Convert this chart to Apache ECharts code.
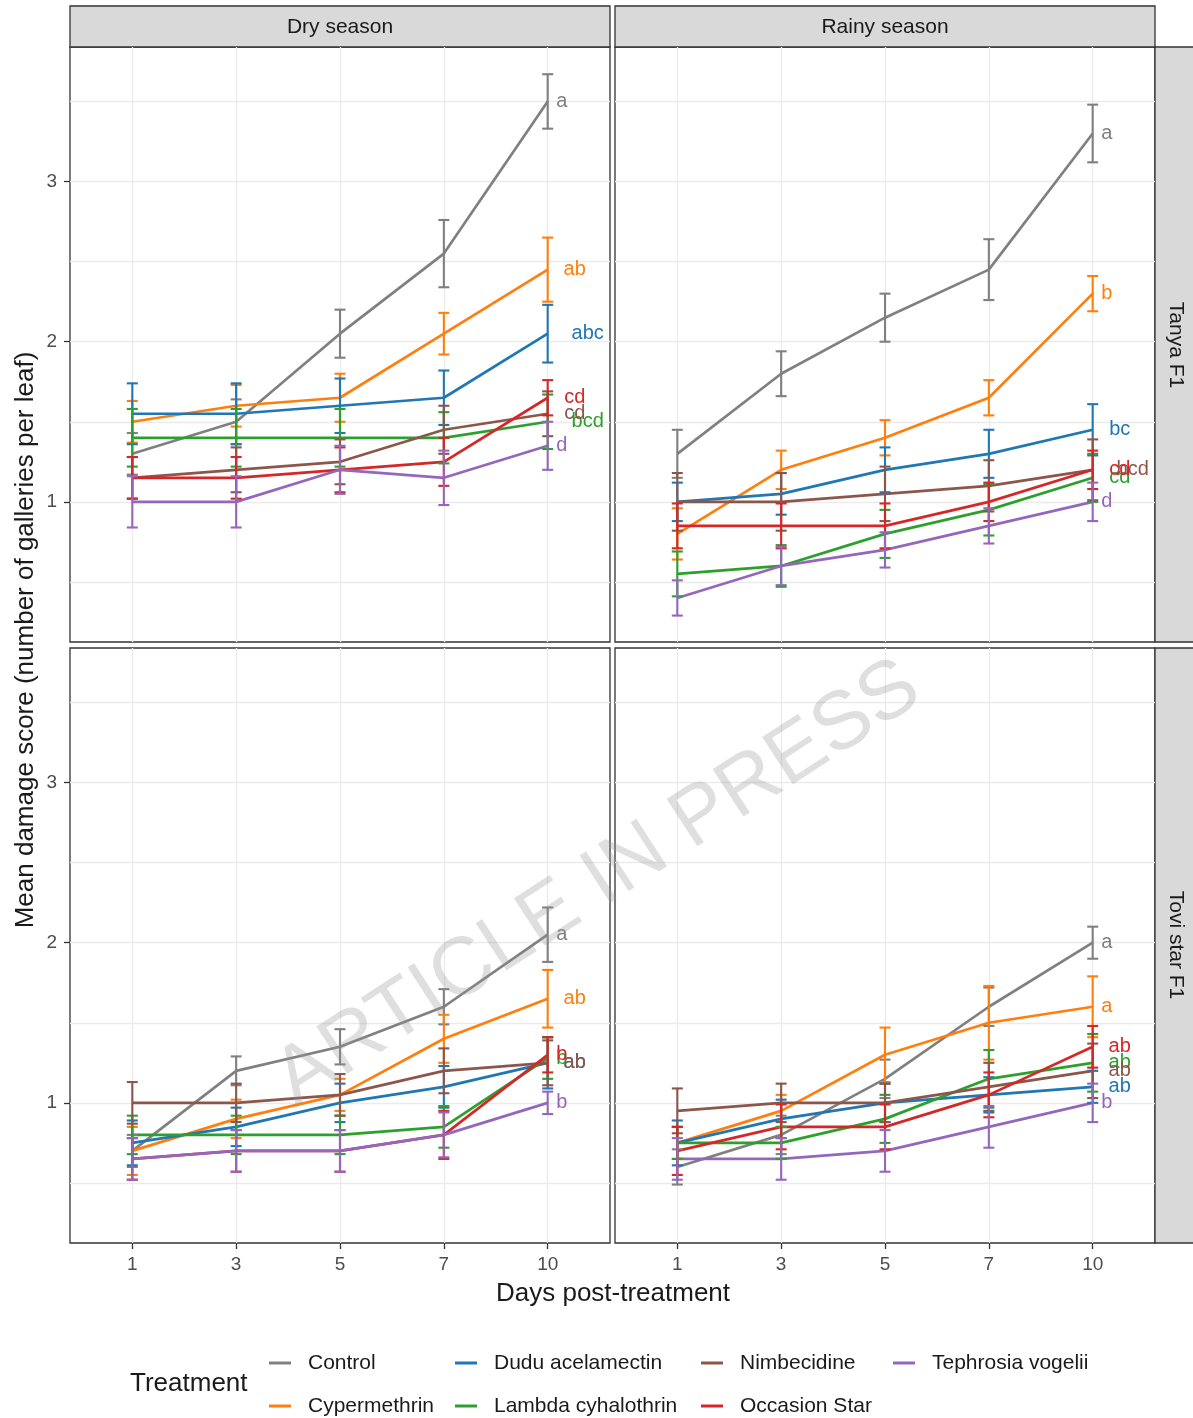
<!DOCTYPE html>
<html>
<head>
<meta charset="utf-8">
<script src="https://cdn.jsdelivr.net/npm/echarts@6/dist/echarts.min.js"></script>
<style>
html,body{margin:0;padding:0;background:#fff;}
#chart{width:1193px;height:1418px;}
</style>
</head>
<body>
<div id="chart"></div>
<script>
// ---------- DATA ----------
const days = ['1', '3', '5', '7', '10'];
const treatments = ['Control', 'Cypermethrin', 'Dudu acelamectin', 'Lambda cyhalothrin', 'Nimbecidine', 'Occasion Star', 'Tephrosia vogelii'];
const yTicks = [1, 2, 3];
const yGridValues = [0.5, 1, 1.5, 2, 2.5, 3, 3.5];

// Dry season, Tanya F1 (rows follow treatments order)
const dryTanyaMean = [
  [1.30, 1.50, 2.05, 2.55, 3.50],
  [1.50, 1.60, 1.65, 2.05, 2.45],
  [1.55, 1.55, 1.60, 1.65, 2.05],
  [1.40, 1.40, 1.40, 1.40, 1.50],
  [1.15, 1.20, 1.25, 1.45, 1.55],
  [1.15, 1.15, 1.20, 1.25, 1.65],
  [1.00, 1.00, 1.20, 1.15, 1.35]
];
const dryTanyaSE = [
  [0.13, 0.14, 0.15, 0.21, 0.17],
  [0.13, 0.13, 0.15, 0.13, 0.20],
  [0.19, 0.19, 0.17, 0.17, 0.18],
  [0.18, 0.18, 0.18, 0.16, 0.17],
  [0.13, 0.14, 0.14, 0.15, 0.14],
  [0.13, 0.13, 0.14, 0.15, 0.11],
  [0.16, 0.16, 0.15, 0.17, 0.15]
];
const dryTanyaLetters = ['a', 'ab', 'abc', 'bcd', 'cd', 'cd', 'd'];

// Rainy season, Tanya F1
const rainyTanyaMean = [
  [1.30, 1.80, 2.15, 2.45, 3.30],
  [0.80, 1.20, 1.40, 1.65, 2.30],
  [1.00, 1.05, 1.20, 1.30, 1.45],
  [0.55, 0.60, 0.80, 0.95, 1.15],
  [1.00, 1.00, 1.05, 1.10, 1.20],
  [0.85, 0.85, 0.85, 1.00, 1.20],
  [0.40, 0.60, 0.70, 0.85, 1.00]
];
const rainyTanyaSE = [
  [0.15, 0.14, 0.15, 0.19, 0.18],
  [0.16, 0.12, 0.11, 0.11, 0.11],
  [0.12, 0.13, 0.14, 0.15, 0.16],
  [0.14, 0.13, 0.15, 0.16, 0.15],
  [0.18, 0.18, 0.17, 0.16, 0.19],
  [0.14, 0.14, 0.14, 0.12, 0.12],
  [0.11, 0.12, 0.11, 0.11, 0.12]
];
const rainyTanyaLetters = ['a', 'b', 'bc', 'cd', 'bcd', 'cd', 'd'];

// Dry season, Tovi star F1
const dryToviMean = [
  [0.70, 1.20, 1.35, 1.60, 2.05],
  [0.70, 0.90, 1.05, 1.40, 1.65],
  [0.75, 0.85, 1.00, 1.10, 1.25],
  [0.80, 0.80, 0.80, 0.85, 1.28],
  [1.00, 1.00, 1.05, 1.20, 1.25],
  [0.65, 0.70, 0.70, 0.80, 1.30],
  [0.65, 0.70, 0.70, 0.80, 1.00]
];
const dryToviSE = [
  [0.10, 0.09, 0.11, 0.11, 0.17],
  [0.15, 0.12, 0.10, 0.15, 0.18],
  [0.14, 0.12, 0.12, 0.13, 0.16],
  [0.12, 0.12, 0.12, 0.13, 0.13],
  [0.13, 0.12, 0.13, 0.14, 0.14],
  [0.13, 0.13, 0.13, 0.15, 0.11],
  [0.13, 0.13, 0.13, 0.14, 0.07]
];
const dryToviLetters = ['a', 'ab', 'ab', 'b', 'ab', 'b', 'b'];

// Rainy season, Tovi star F1
const rainyToviMean = [
  [0.60, 0.80, 1.15, 1.60, 2.00],
  [0.75, 0.95, 1.30, 1.50, 1.60],
  [0.75, 0.90, 1.00, 1.05, 1.10],
  [0.75, 0.75, 0.90, 1.15, 1.25],
  [0.95, 1.00, 1.00, 1.10, 1.20],
  [0.70, 0.85, 0.85, 1.05, 1.35],
  [0.65, 0.65, 0.70, 0.85, 1.00]
];
const rainyToviSE = [
  [0.11, 0.12, 0.12, 0.12, 0.10],
  [0.10, 0.10, 0.17, 0.23, 0.19],
  [0.14, 0.12, 0.12, 0.11, 0.10],
  [0.10, 0.10, 0.15, 0.18, 0.18],
  [0.14, 0.12, 0.12, 0.15, 0.17],
  [0.15, 0.14, 0.14, 0.14, 0.13],
  [0.13, 0.13, 0.13, 0.13, 0.12]
];
const rainyToviLetters = ['a', 'a', 'ab', 'ab', 'ab', 'ab', 'b'];

const columnTitles = ['Dry season', 'Rainy season'];
const rowTitles = ['Tanya F1', 'Tovi star F1'];

// ---------- STYLE / LAYOUT ----------
const colors = ['#808080', '#ff7f0e', '#1f77b4', '#2ca02c', '#8c564b', '#d62728', '#9467bd'];
const FONT = '"Liberation Sans", Arial, Helvetica, sans-serif';
const GRIDC = '#ebebeb';
const XSTEP = 5; // x axis units per category step
const Y_MIN = 0.125, Y_MAX = 3.84;

const panels = [
  { mean: dryTanyaMean, se: dryTanyaSE, letters: dryTanyaLetters, left: 70, top: 47, showX: false, showY: true },
  { mean: rainyTanyaMean, se: rainyTanyaSE, letters: rainyTanyaLetters, left: 615, top: 47, showX: false, showY: false },
  { mean: dryToviMean, se: dryToviSE, letters: dryToviLetters, left: 70, top: 648, showX: true, showY: true },
  { mean: rainyToviMean, se: rainyToviSE, letters: rainyToviLetters, left: 615, top: 648, showX: true, showY: false }
];
const PW = 540, PH = 595;

const grid = [], xAxis = [], yAxis = [], series = [];
const xTickVals = days.map((d, i) => i * XSTEP);

panels.forEach((p, pi) => {
  grid.push({ left: p.left, top: p.top, width: PW, height: PH, show: true,
    backgroundColor: '#fff', borderColor: '#333', borderWidth: 1.3, containLabel: false });
  xAxis.push({
    type: 'value', gridIndex: pi, min: -3, max: 23, interval: 1,
    axisLine: { show: false, onZero: false },
    splitLine: { show: true, lineStyle: { color: GRIDC, width: 1.4 } },
    axisTick: { show: p.showX, customValues: xTickVals, length: 6, lineStyle: { color: '#333', width: 1.3 } },
    axisLabel: { show: p.showX, customValues: xTickVals, margin: 12, fontSize: 19, fontFamily: FONT, color: '#4d4d4d',
      formatter: v => (v % XSTEP === 0 && v >= 0 && v / XSTEP < days.length) ? days[v / XSTEP] : '' }
  });
  // axis carrying the grid lines (major + minor)
  yAxis.push({
    type: 'value', gridIndex: pi, min: Y_MIN, max: Y_MAX, position: 'left',
    axisLine: { show: false, onZero: false },
    splitLine: { show: true, lineStyle: { color: GRIDC, width: 1.4 } },
    axisTick: { show: false, customValues: yGridValues },
    axisLabel: { show: false, customValues: yGridValues }
  });
  // axis carrying the ticks and labels
  yAxis.push({
    type: 'value', gridIndex: pi, min: Y_MIN, max: Y_MAX, position: 'left',
    axisLine: { show: false, onZero: false },
    splitLine: { show: false },
    axisTick: { show: p.showY, customValues: yTicks, length: 6, lineStyle: { color: '#333', width: 1.3 } },
    axisLabel: { show: p.showY, customValues: yTicks, margin: 13, fontSize: 19, fontFamily: FONT, color: '#4d4d4d',
      formatter: v => String(v) }
  });
});

// lines
panels.forEach((p, pi) => {
  treatments.forEach((t, ti) => {
    series.push({
      type: 'line', name: t, xAxisIndex: pi, yAxisIndex: 2 * pi, z: 2,
      data: p.mean[ti].map((v, i) => [i * XSTEP, v]),
      symbol: 'none', silent: true, animation: false,
      lineStyle: { color: colors[ti], width: 2.7 },
      itemStyle: { color: colors[ti] }
    });
  });
});
// error bars
panels.forEach((p, pi) => {
  treatments.forEach((t, ti) => {
    const col = colors[ti];
    series.push({
      type: 'custom', name: t, xAxisIndex: pi, yAxisIndex: 2 * pi, z: 3, silent: true, animation: false,
      data: p.mean[ti].map((v, i) => [i * XSTEP, v - p.se[ti][i], v + p.se[ti][i]]),
      encode: { x: 0, y: [1, 2] },
      renderItem: (params, api) => {
        const x = api.value(0);
        const lo = api.coord([x, api.value(1)]);
        const hi = api.coord([x, api.value(2)]);
        const hw = 5.5;
        const st = { stroke: col, lineWidth: 2.1 };
        return { type: 'group', children: [
          { type: 'line', shape: { x1: lo[0], y1: lo[1], x2: hi[0], y2: hi[1] }, style: st },
          { type: 'line', shape: { x1: lo[0] - hw, y1: lo[1], x2: lo[0] + hw, y2: lo[1] }, style: st },
          { type: 'line', shape: { x1: hi[0] - hw, y1: hi[1], x2: hi[0] + hw, y2: hi[1] }, style: st }
        ]};
      }
    });
  });
});
// significance letters at last day
panels.forEach((p, pi) => {
  treatments.forEach((t, ti) => {
    const col = colors[ti];
    const last = days.length - 1;
    const letter = p.letters[ti];
    series.push({
      type: 'custom', name: t, xAxisIndex: pi, yAxisIndex: 2 * pi, z: 4, silent: true, animation: false,
      data: [[last * XSTEP, p.mean[ti][last]]],
      encode: { x: 0, y: 1 },
      renderItem: (params, api) => {
        const pt = api.coord([api.value(0), api.value(1)]);
        return { type: 'text', x: pt[0] + 1 + 13 * letter.length, y: pt[1],
          style: { text: letter, fill: col, fontSize: 20, fontFamily: FONT, align: 'center', verticalAlign: 'middle' } };
      }
    });
  });
});

// legends (4 columns, 2 rows)
const legendCols = [[0, 1], [2, 3], [4, 5], [6]];
const legendLefts = [269, 455, 701, 893];
const legend = legendCols.map((idx, ci) => ({
  data: idx.map(i => treatments[i]),
  orient: 'vertical', left: legendLefts[ci], top: 1351, padding: 0,
  itemWidth: 22, itemHeight: 3, itemGap: 19, icon: 'rect', selectedMode: false,
  textStyle: { fontSize: 21, fontFamily: FONT, color: '#1a1a1a', lineHeight: 24, padding: [0, 0, 0, 12] }
}));

const txt = (text, x, y, size, extra) => Object.assign({
  type: 'text', x: x, y: y, silent: true,
  style: { text: text, fontSize: size, fontFamily: FONT, fill: '#1a1a1a', align: 'center', verticalAlign: 'middle' }
}, extra || {});

const graphic = [
  { type: 'rect', shape: { x: 70, y: 6, width: 540, height: 41 }, style: { fill: '#d9d9d9', stroke: '#333', lineWidth: 1.3 }, silent: true },
  { type: 'rect', shape: { x: 615, y: 6, width: 540, height: 41 }, style: { fill: '#d9d9d9', stroke: '#333', lineWidth: 1.3 }, silent: true },
  { type: 'rect', shape: { x: 1155, y: 47, width: 45, height: 595 }, style: { fill: '#d9d9d9', stroke: '#333', lineWidth: 1.3 }, silent: true },
  { type: 'rect', shape: { x: 1155, y: 648, width: 45, height: 595 }, style: { fill: '#d9d9d9', stroke: '#333', lineWidth: 1.3 }, silent: true },
  txt(columnTitles[0], 340, 27, 21),
  txt(columnTitles[1], 885, 27, 21),
  txt(rowTitles[0], 1176, 345, 21, { rotation: -Math.PI / 2 }),
  txt(rowTitles[1], 1176, 945, 21, { rotation: -Math.PI / 2 }),
  txt('Mean damage score (number of galleries per leaf)', 26, 640, 26, { rotation: Math.PI / 2 }),
  txt('Days post-treatment', 613, 1294, 26),
  { type: 'text', x: 130, y: 1384, silent: true,
    style: { text: 'Treatment', fontSize: 26, fontFamily: FONT, fill: '#1a1a1a', align: 'left', verticalAlign: 'middle' } },
  { type: 'text', x: 598, y: 884, rotation: 33 * Math.PI / 180, z: 100, silent: true,
    style: { text: 'ARTICLE IN PRESS', fontSize: 82, fontFamily: FONT, fill: 'rgba(150,150,150,0.3)', align: 'center', verticalAlign: 'middle' } }
];

const chart = echarts.init(document.getElementById('chart'), null, { renderer: 'canvas' });
chart.setOption({
  animation: false,
  backgroundColor: '#fff',
  textStyle: { fontFamily: FONT },
  grid, xAxis, yAxis, series, legend, graphic
});
</script>
</body>
</html>
